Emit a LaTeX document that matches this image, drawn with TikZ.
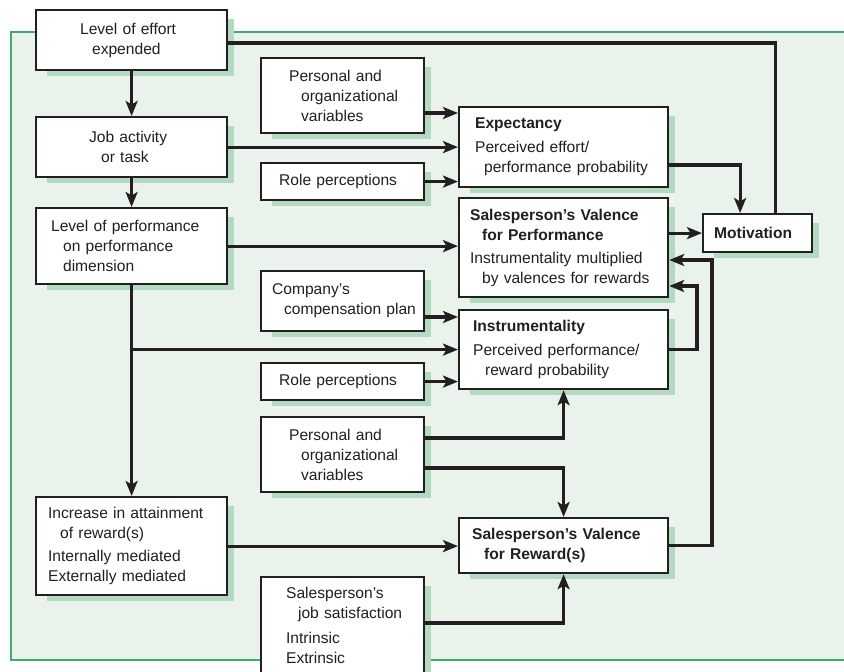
\documentclass[tikz,border=0pt]{standalone}
\usepackage{fontspec}
\setmainfont{Liberation Sans}
\usetikzlibrary{arrows.meta}
\definecolor{ink}{HTML}{231F20}
\definecolor{bgfill}{HTML}{EAF2EC}
\definecolor{framegreen}{HTML}{3FAA73}
\definecolor{shadowgreen}{HTML}{B3D9C1}
\pgfdeclarelayer{bg}
\pgfsetlayers{bg,main}
\newcommand\ind{\hspace*{12pt}}
\begin{document}
\begin{tikzpicture}[x=1pt,y=-1pt,
  box/.style={draw=ink, line width=2.2pt, fill=white, inner sep=0pt, anchor=north west,
    align=left, text=ink, font=\fontsize{15.6}{20}\selectfont},
  sz/.style n args={3}{text width=#1pt, minimum width=#1pt, minimum height=#2pt,
    execute at begin node={\leftskip=#3pt\relax}},
  conn/.style={draw=ink, line width=3.2pt},
  arr/.style={conn, -{Stealth[length=15pt,width=12pt,inset=3.5pt]}}]
\useasboundingbox (0,0) rectangle (844,672);

% boxes
\node[box, sz={191}{60}{44}] (effort) at (35,9) {Level of effort\\\ind expended};
\node[box, sz={191}{60}{53}] (job) at (35,116) {Job activity\\\ind or task};
\node[box, sz={191}{76}{15}] (perf) at (35,207) {Level of performance\\\ind on performance\\\ind dimension};
\node[box, sz={163}{75}{28}] (pers1) at (260,57) {Personal and\\\ind organizational\\\ind variables};
\node[box, sz={163}{37}{18}] (role1) at (260,162) {Role perceptions};
\node[box, sz={209}{80}{16}] (expect) at (458,106) {\textbf{Expectancy}\\[4pt]Perceived effort/\\\hspace*{9pt}performance probability};
\node[box, sz={209}{99}{11}] (svp) at (458,197) {\textbf{Salesperson’s Valence}\\\ind\textbf{for Performance}\\[3pt]Instrumentality multiplied\\\ind by valences for rewards};
\node[box, sz={109}{38}{11}] (mot) at (702,213) {\textbf{Motivation}};
\node[box, sz={163}{60}{11}] (comp) at (260,270) {Company’s\\\ind compensation plan};
\node[box, sz={209}{79}{14}] (instr) at (458,309) {\textbf{Instrumentality}\\[4pt]Perceived performance/\\\ind reward probability};
\node[box, sz={163}{37}{18}] (role2) at (260,362) {Role perceptions};
\node[box, sz={163}{75}{28}] (pers2) at (260,416) {Personal and\\\ind organizational\\\ind variables};
\node[box, sz={191}{98}{12}] (incr) at (35,496) {Increase in attainment\\\ind of reward(s)\\[3pt]Internally mediated\\Externally mediated};
\node[box, sz={209}{55}{13}] (svr) at (458,517) {\textbf{Salesperson’s Valence}\\\ind\textbf{for Reward(s)}};
\node[box, sz={163}{124}{25}] (jobsat) at (260,576) {Salesperson’s\\\ind job satisfaction\\[5pt]Intrinsic\\Extrinsic\rule[-27pt]{0pt}{0pt}};

% background, frame and shadows
\begin{pgfonlayer}{bg}
  \fill[bgfill] (11,32) rectangle (850,660);
  \draw[framegreen, line width=2.5pt] (850,32) -- (11,32) -- (11,660) -- (850,660);
  \foreach \n in {effort,job,perf,pers1,role1,expect,svp,mot,comp,instr,role2,pers2,incr,svr,jobsat}
    \fill[fill=shadowgreen] ([xshift=12pt,yshift=-10pt]\n.north west) rectangle ([xshift=6pt,yshift=-5pt]\n.south east);
\end{pgfonlayer}

% helper coordinates
\coordinate (yA) at (0,43);
\coordinate (yB) at (0,165);
\coordinate (yC) at (0,113);
\coordinate (yE) at (0,317);
\coordinate (yF) at (0,438);
\coordinate (yG) at (0,468);
\coordinate (yH) at (0,623);
\coordinate (r1) at (712,260);
\coordinate (r2) at (697,286);
\coordinate (mA) at ([xshift=17.5pt]mot.north);
\coordinate (mB) at ([xshift=-17.5pt]mot.north);

% connectors
\draw[arr] (effort.south) -- (job.north);
\draw[arr] (job.south) -- (perf.north);
\draw[conn] (effort.east |- yA) -| (mA);
\draw[arr] (expect.east |- yB) -| (mB);
\draw[arr] (pers1.east |- yC) -- (expect.west |- yC);
\draw[arr] (job.east) -- (expect.west |- job.east);
\draw[arr] (role1.east) -- (expect.west |- role1.east);
\draw[arr] (perf.east) -- (svp.west |- perf.east);
\draw[arr] (svp.east |- mot.west) -- (mot.west);
\draw[arr] (perf.south) -- (incr.north);
\draw[arr] (perf.south |- instr.west) -- (instr.west);
\draw[arr] (comp.east |- yE) -- (instr.west |- yE);
\draw[arr] (role2.east) -- (instr.west |- role2.east);
\draw[arr] (pers2.east |- yF) -| (instr.south);
\draw[arr] (pers2.east |- yG) -| (svr.north);
\draw[arr] (incr.east) -- (svr.west |- incr.east);
\draw[arr] (jobsat.east |- yH) -| (svr.south);
\draw[arr] (svr.east) -| (r1) -- (svp.east |- r1);
\draw[arr] (instr.east) -| (r2) -- (svp.east |- r2);
\end{tikzpicture}
\end{document}
